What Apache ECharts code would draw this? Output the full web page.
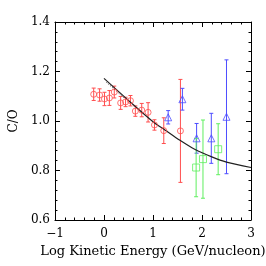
<!DOCTYPE html>
<html><head><meta charset="utf-8">
<script src="https://cdn.jsdelivr.net/npm/echarts@6/dist/echarts.min.js"></script>
<style>html,body{margin:0;padding:0;background:#fff}#c{width:266px;height:266px}</style>
</head><body><div id="c"></div>
<script>
// Red circles
const redX   = [-0.21,-0.09,0.01,0.11,0.21,0.34,0.44,0.54,0.64,0.77,0.90,1.03,1.22,1.56];
const redY   = [1.108,1.105,1.089,1.093,1.117,1.073,1.077,1.082,1.040,1.044,1.035,0.984,0.961,0.960];
const redErr = [0.025,0.025,0.027,0.030,0.024,0.026,0.019,0.021,0.021,0.027,0.039,0.021,0.052,0.208];
// Blue triangles
const blueX   = [1.31,1.60,1.89,2.19,2.50];
const blueY   = [1.015,1.088,0.930,0.930,1.017];
const blueErr = [0.027,0.044,0.060,0.101,0.230];
// Green squares
const greenX   = [1.88,2.02,2.33];
const greenY   = [0.812,0.846,0.886];
const greenErr = [0.118,0.158,0.103];
// Model curves
const curveX = [0.0,0.5,1.0,1.25,1.55,1.85,2.2,2.5,3.0];
const curveY = [1.172,1.083,0.997,0.963,0.922,0.886,0.855,0.834,0.812];
const dotX = [0.05,0.42];
const dotY = [1.156,1.092];
const xTicks = [-1,0,1,2,3];
const yTicks = [0.6,0.8,1.0,1.2,1.4];

const RED='#ff4d4d', BLUE='#4d4dff', GREEN='#5fef5f';
const FONT='DejaVu Serif';

function pts(xs,ys){return xs.map((x,i)=>[x,ys[i]]);}
function errData(xs,ys,es){return xs.map((x,i)=>[x,ys[i]-es[i],ys[i]+es[i]]);}
function errSeries(xs,ys,es,color){
  return {type:'custom',data:errData(xs,ys,es),z:2,silent:true,
    renderItem:function(params,api){
      const lo=api.coord([api.value(0),api.value(1)]);
      const hi=api.coord([api.value(0),api.value(2)]);
      const w=2;
      const st={stroke:color,lineWidth:1};
      return {type:'group',children:[
        {type:'line',shape:{x1:lo[0],y1:lo[1],x2:hi[0],y2:hi[1]},style:st},
        {type:'line',shape:{x1:lo[0]-w,y1:lo[1],x2:lo[0]+w,y2:lo[1]},style:st},
        {type:'line',shape:{x1:hi[0]-w,y1:hi[1],x2:hi[0]+w,y2:hi[1]},style:st}
      ]};
    }};
}
const axLine={show:true,onZero:false,lineStyle:{color:'#000',width:1}};
const tick={inside:true,length:5,lineStyle:{color:'#000'}};
const minor={show:true,splitNumber:5,length:2.5,lineStyle:{color:'#000'}};
const chart=echarts.init(document.getElementById('c'));
chart.setOption({
  animation:false,
  grid:{left:49,right:15,top:22,bottom:46},
  xAxis:[{type:'value',min:-1,max:3,interval:1,position:'bottom',
    name:'Log Kinetic Energy (GeV/nucleon)',nameLocation:'middle',nameGap:23,
    nameTextStyle:{fontFamily:FONT,fontSize:13,color:'#000'},
    axisLine:axLine,splitLine:{show:false},axisTick:tick,minorTick:minor,
    axisLabel:{fontFamily:FONT,fontSize:12,color:'#000',margin:8,
      formatter:v=>xTicks.includes(v)?(v<0?'\u2212'+(-v):String(v)):''}},
   {type:'value',min:-1,max:3,interval:1,position:'top',
    axisLine:axLine,splitLine:{show:false},axisLabel:{show:false},
    axisTick:tick,minorTick:minor}],
  yAxis:[{type:'value',min:0.6,max:1.4,interval:0.2,position:'left',
    name:'C/O',nameLocation:'middle',nameGap:27,nameRotate:90,
    nameTextStyle:{fontFamily:FONT,fontSize:12,color:'#000'},
    axisLine:axLine,splitLine:{show:false},axisTick:tick,minorTick:minor,
    axisLabel:{fontFamily:FONT,fontSize:12,color:'#000',margin:5,
      formatter:v=>{const t=yTicks.find(q=>Math.abs(q-v)<1e-6);return t===undefined?'':t.toFixed(1);}}},
   {type:'value',min:0.6,max:1.4,interval:0.2,position:'right',
    axisLine:axLine,splitLine:{show:false},axisLabel:{show:false},
    axisTick:tick,minorTick:minor}],
  series:[
    {type:'line',data:pts(curveX,curveY),smooth:0.3,symbol:'none',z:3,
      lineStyle:{color:'#222',width:1.2}},
    {type:'line',data:pts(dotX,dotY),symbol:'none',z:3,
      lineStyle:{color:'#444',width:1,type:[1,1.5]}},
    errSeries(redX,redY,redErr,RED),
    errSeries(blueX,blueY,blueErr,BLUE),
    errSeries(greenX,greenY,greenErr,GREEN),
    {type:'scatter',data:pts(redX,redY),symbol:'circle',symbolSize:6,z:4,
      itemStyle:{color:'rgba(0,0,0,0)',borderColor:RED,borderWidth:1}},
    {type:'scatter',data:pts(blueX,blueY),symbol:'triangle',symbolSize:7,z:4,
      itemStyle:{color:'rgba(0,0,0,0)',borderColor:BLUE,borderWidth:1}},
    {type:'scatter',data:pts(greenX,greenY),symbol:'rect',symbolSize:7,z:4,
      itemStyle:{color:'rgba(0,0,0,0)',borderColor:GREEN,borderWidth:1}}
  ]
});
</script></body></html>
